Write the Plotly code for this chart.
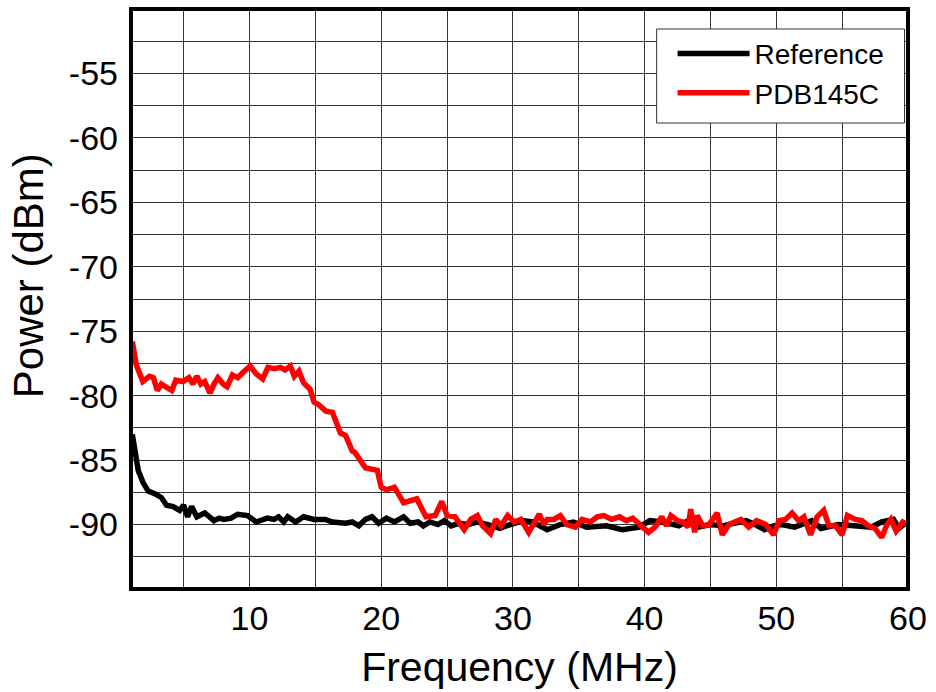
import plotly.graph_objects as go

# Reference trace (black)
ref_f = [1.1, 1.3, 1.55, 1.9, 2.3, 2.8, 3.3, 3.7, 4.2, 4.7, 5.0, 5.3, 5.6, 6.0, 6.6, 7.3, 7.7, 8.05,
         8.6, 9.1, 9.85, 10.5, 11.35, 11.85, 12.2, 12.6, 12.9, 13.5, 14.1, 14.9, 15.75, 16.3, 17.3,
         17.8, 18.3, 18.8, 19.3, 19.8, 20.4, 21.0, 21.7, 22.2, 22.8, 23.2, 23.7, 24.3, 24.8, 25.3,
         25.9, 26.6, 27.3, 28.1, 29.0, 29.8, 30.8, 31.5, 32.6, 33.6, 34.6, 35.6, 37.1, 38.3, 39.6,
         40.4, 41.4, 42.6, 43.3, 44.1, 45.0, 45.9, 46.8, 47.7, 48.4, 49.1, 49.8, 50.4, 51.4, 52.7,
         53.4, 54.7, 55.9, 57.2, 58.0, 58.9, 59.3, 59.8]
ref_p = [-83.0, -84.5, -85.8, -86.7, -87.4, -87.6, -87.9, -88.5, -88.6, -88.9, -88.5, -89.4, -88.6,
         -89.4, -89.1, -89.7, -89.5, -89.6, -89.5, -89.2, -89.3, -89.8, -89.5, -89.6, -89.4, -89.8,
         -89.4, -89.8, -89.4, -89.6, -89.6, -89.8, -89.9, -89.8, -90.1, -89.6, -89.4, -89.9, -89.5,
         -89.8, -89.4, -89.9, -89.8, -90.1, -89.8, -90.0, -89.7, -90.1, -89.9, -90.0, -89.8, -90.0,
         -90.3, -90.0, -89.7, -89.8, -90.4, -90.0, -89.8, -90.2, -90.1, -90.4, -90.2, -89.7, -89.8,
         -90.1, -89.7, -90.2, -90.0, -90.1, -89.9, -89.7, -90.0, -90.4, -90.1, -90.0, -90.2, -89.7,
         -90.3, -90.0, -90.1, -90.2, -89.8, -89.6, -90.3, -89.9]

# PDB145C trace (red)
pdb_f = [1.1, 1.4, 1.9, 2.4, 2.7, 3.0, 3.3, 3.7, 4.1, 4.4, 4.95, 5.4, 5.7, 6.0, 6.3, 6.6, 7.0, 7.3,
         7.6, 8.0, 8.3, 8.7, 9.1, 9.5, 10.05, 10.5, 11.0, 11.4, 11.9, 12.35, 12.7, 13.1, 13.4, 13.75,
         14.1, 14.6, 14.9, 15.25, 15.8, 16.3, 16.9, 17.3, 17.8, 18.0, 18.8, 19.7, 20.0, 20.4, 21.0,
         21.7, 22.7, 23.4, 24.1, 24.6, 25.0, 25.6, 26.3, 26.8, 27.3, 27.7, 28.3, 28.7, 29.1, 29.6,
         30.1, 30.6, 31.2, 32.0, 32.35, 32.6, 33.1, 33.6, 34.1, 34.75, 35.25, 35.9, 36.4, 36.9, 37.5,
         38.1, 38.6, 39.1, 39.6, 40.3, 40.8, 41.3, 41.65, 42.0, 42.5, 42.9, 43.3, 43.5, 43.8, 44.0,
         44.4, 44.9, 45.5, 45.9, 46.4, 47.3, 47.9, 48.5, 49.2, 49.8, 50.2, 50.7, 51.2, 51.7, 52.1,
         52.6, 53.1, 53.6, 54.0, 54.5, 55.0, 55.4, 56.0, 56.5, 57.0, 57.5, 58.0, 58.4, 58.7, 59.1,
         59.6, 60.0]
pdb_p = [-75.8, -77.6, -78.9, -78.5, -78.6, -79.6, -79.1, -79.4, -79.6, -78.8, -78.9, -78.6, -79.1,
         -78.5, -79.1, -78.9, -79.8, -79.1, -78.6, -79.1, -79.3, -78.4, -78.6, -78.2, -77.7, -78.3,
         -78.7, -77.8, -77.9, -77.8, -78.0, -77.7, -78.5, -78.1, -79.0, -79.5, -80.5, -80.7, -81.2,
         -81.3, -82.9, -83.1, -84.3, -84.4, -85.6, -85.8, -87.1, -87.3, -87.1, -88.3, -88.0, -89.4,
         -89.3, -88.2, -89.3, -89.4, -90.4, -89.6, -89.3, -90.1, -90.7, -89.6, -90.1, -89.3, -89.8,
         -89.6, -90.6, -89.2, -90.0, -89.6, -89.6, -89.3, -90.0, -90.2, -89.6, -89.8, -89.4, -89.3,
         -89.6, -89.4, -89.7, -89.5, -90.0, -90.6, -90.2, -89.4, -90.1, -89.3, -89.7, -89.8, -90.2,
         -88.8, -90.6, -89.3, -90.1, -90.0, -89.1, -90.8, -90.0, -89.6, -90.2, -89.7, -90.0, -90.8,
         -89.7, -89.6, -89.1, -89.7, -89.4, -90.8, -89.4, -88.9, -90.1, -90.1, -90.8, -89.3, -89.6,
         -89.7, -90.1, -90.3, -91.0, -90.0, -89.6, -90.5, -89.8, -90.0]

x_ticks = [10, 20, 30, 40, 50, 60]
y_ticks = [-90, -85, -80, -75, -70, -65, -60, -55]
y_ticktext = ["-90", "-85", "-80", "-75", "-70", "-65", "-60", "-55"]

FONT = "Liberation Sans, Arial, sans-serif"

fig = go.Figure()
fig.add_trace(go.Scatter(x=ref_f, y=ref_p, mode="lines", name="Reference",
                         line=dict(color="#000000", width=5.5)))
fig.add_trace(go.Scatter(x=pdb_f, y=pdb_p, mode="lines", name="PDB145C",
                         line=dict(color="#ff0000", width=5.5)))

grid_col = "#333333"
fig.update_layout(
    width=936, height=692,
    margin=dict(l=131, r=23, t=9, b=103),
    paper_bgcolor="white", plot_bgcolor="white",
    font=dict(family=FONT, color="black"),
    showlegend=True,
    legend=dict(x=0.697, y=0.966, xanchor="left", yanchor="top",
                bgcolor="rgba(0,0,0,0)", borderwidth=0,
                font=dict(size=28, family=FONT), itemwidth=72,
                tracegroupgap=0),
    xaxis=dict(range=[1, 60], tickvals=x_ticks, showgrid=True, gridcolor=grid_col, gridwidth=1,
               minor=dict(dtick=5, tick0=0, showgrid=True, gridcolor=grid_col, gridwidth=1),
               zeroline=False, showline=False, ticks="",
               tickfont=dict(size=34, family=FONT), ticklabelstandoff=6,
               title=dict(text="Frequency (MHz)", font=dict(size=41, family=FONT), standoff=16)),
    yaxis=dict(range=[-95, -50], tickvals=y_ticks, ticktext=y_ticktext,
               showgrid=True, gridcolor=grid_col, gridwidth=1,
               minor=dict(dtick=2.5, tick0=0, showgrid=True, gridcolor=grid_col, gridwidth=1),
               zeroline=False, showline=False, ticks="",
               tickfont=dict(size=34, family=FONT), ticklabelstandoff=12),
)
# y-axis title (placed as annotation to match its off-centre position)
fig.add_annotation(text="Power (dBm)", xref="paper", yref="paper", x=-0.132, y=0.54,
                   xanchor="center", yanchor="middle", textangle=-90, showarrow=False,
                   font=dict(size=42, family=FONT, color="black"))
# legend frame
fig.add_shape(type="rect", xref="paper", yref="paper", x0=0.6765, x1=0.9955, y0=0.8034, y1=0.9655,
              line=dict(color="#333", width=1), fillcolor="white", layer="above")
# plot border
fig.add_shape(type="rect", xref="paper", yref="paper", x0=0, x1=1, y0=0, y1=1,
              line=dict(color="black", width=4), fillcolor="rgba(0,0,0,0)", layer="above")

fig.write_html("out.html")
